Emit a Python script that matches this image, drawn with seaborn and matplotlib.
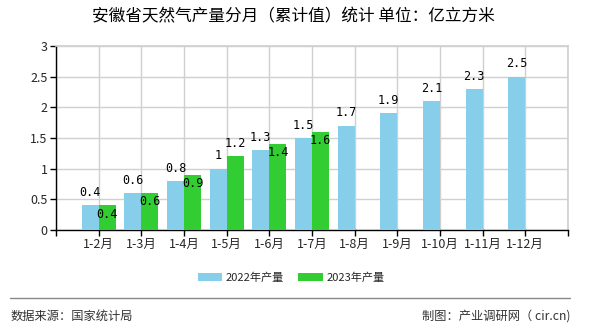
import matplotlib
matplotlib.use("Agg")
import matplotlib.pyplot as plt
import seaborn as sns
import pandas as pd
import numpy as np

categories = ["1-2月", "1-3月", "1-4月", "1-5月", "1-6月", "1-7月",
              "1-8月", "1-9月", "1-10月", "1-11月", "1-12月"]
vals_2022 = [0.4, 0.6, 0.8, 1, 1.3, 1.5, 1.7, 1.9, 2.1, 2.3, 2.5]
vals_2023 = [0.4, 0.6, 0.9, 1.2, 1.4, 1.6]
series_names = ["2022年产量", "2023年产量"]
colors = ["#87CEEB", "#32CD32"]

sns.set_theme(style="white")
plt.rcParams["font.family"] = ["Noto Sans CJK SC", "DejaVu Sans"]
plt.rcParams["axes.unicode_minus"] = False

rows = []
for c, v in zip(categories, vals_2022):
    rows.append({"cat": c, "val": v, "series": series_names[0]})
for i, c in enumerate(categories):
    v = vals_2023[i] if i < len(vals_2023) else np.nan
    rows.append({"cat": c, "val": v, "series": series_names[1]})
df = pd.DataFrame(rows)

fig = plt.figure(figsize=(5.9, 3.3), dpi=100)
ax = fig.add_axes([56 / 590, 1 - 230 / 330, (568 - 56) / 590, (230 - 46) / 330])

sns.barplot(data=df, x="cat", y="val", hue="series", order=categories,
            hue_order=series_names, palette=colors, width=0.8, dodge=True,
            saturation=1, errorbar=None, ax=ax, legend=True, zorder=3,
            linewidth=0, edgecolor="none")

# value labels: 2022 above the bar, 2023 just inside the top unless it would
# collide with the neighbouring 2022 label
label_font = dict(family="DejaVu Sans Mono", fontsize=8.5, color="black")
for i, v in enumerate(vals_2022):
    ax.text(i - 0.2, v + 0.21, f"{v:g}", ha="center", va="center", zorder=5, **label_font)
for i, v in enumerate(vals_2023):
    if v - vals_2022[i] >= 0.2 - 1e-9:
        y = v + 0.21
    else:
        y = v - 0.14
    ax.text(i + 0.2, y, f"{v:g}", ha="center", va="center", zorder=5, **label_font)

ax.set_xlim(-1, len(categories))
ax.set_ylim(0, 3)
ax.set_xticks(np.arange(-1, len(categories) + 1))
ax.set_xticklabels([""] + categories + [""], fontsize=9)
ax.set_yticks(np.arange(0, 3.01, 0.5))
ax.set_yticklabels(["0", "0.5", "1", "1.5", "2", "2.5", "3"], fontsize=9)
ax.set_xlabel("")
ax.set_ylabel("")

ax.grid(True, color="#d0d0d0", linewidth=1, zorder=0)
ax.set_axisbelow(True)
for side in ["top", "right"]:
    ax.spines[side].set_color("#d0d0d0")
for side in ["left", "bottom"]:
    ax.spines[side].set_color("black")
    ax.spines[side].set_linewidth(1)
ax.tick_params(axis="both", which="both", length=4, width=1, color="black",
               direction="out", bottom=True, left=True, pad=2)

leg = ax.legend(loc="center", bbox_to_anchor=(291 / 590, 1 - 277.5 / 330),
                bbox_transform=fig.transFigure, ncol=2, frameon=False,
                fontsize=8, handlelength=2.2, handleheight=0.7,
                columnspacing=1.3, handletextpad=0.3)

fig.text(293 / 590, 1 - 17 / 330, "安徽省天然气产量分月（累计值）统计 单位：亿立方米",
         ha="center", va="center", fontsize=12, color="black")
fig.add_artist(plt.Line2D([10 / 590, 570 / 590], [1 - 298 / 330, 1 - 298 / 330],
                          color="#888888", linewidth=1, transform=fig.transFigure))
fig.text(11 / 590, 1 - 316 / 330, "数据来源：国家统计局", ha="left", va="center",
         fontsize=8.8, color="#333333")
fig.text(570 / 590, 1 - 316 / 330, "制图：产业调研网（ cir.cn)", ha="right", va="center",
         fontsize=8.8, color="#333333")

fig.savefig("out.png", dpi=100, facecolor="white")
